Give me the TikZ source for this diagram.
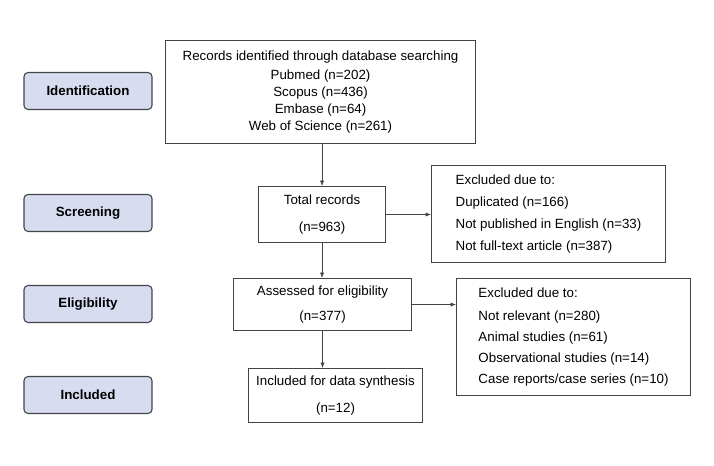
\documentclass[tikz,border=0pt]{standalone}
\usepackage{fontspec}
\setmainfont{Liberation Sans}
\usetikzlibrary{arrows.meta,positioning}
\definecolor{stagefill}{HTML}{D7DCF0}
\definecolor{linegray}{HTML}{444444}
\begin{document}
\begin{tikzpicture}[x=0.75pt, y=-0.75pt, >={Latex[length=4pt,width=3pt]}]
   \tikzset{
    box/.style={draw=linegray, thick, anchor=north west, inner sep=0pt, font=\fontsize{10}{12.75}\selectfont},
    stage/.style={draw=linegray, thick, rounded corners=3pt, fill=stagefill, minimum width=96pt, minimum height=27.75pt, font=\bfseries\fontsize{10}{12}\selectfont},
    link/.style={->, draw=linegray, thin}
   }
   \useasboundingbox (0,0) rectangle (714,466);
   % stages
   \node[stage] (ident) at (88,91) {Identification};
   \node[stage] (scr) at (88,213) {Screening};
   \node[stage] (elig) at (88,304) {Eligibility};
   \node[stage] (incl) at (88,395) {Included};
   % boxes
   \node[box, minimum width=232.5pt, minimum height=77.25pt, align=center] (search) at (165,40)
     {Records identified through database searching\\[1pt]Pubmed (n=202)\\Scopus (n=436)\\Embase (n=64)\\Web of Science (n=261)};
   \node[box, minimum width=95.25pt, minimum height=42pt, align=center] (total) at (258,186)
     {Total records\\[7pt](n=963)};
   \node[box, minimum width=175.5pt, minimum height=72.75pt, align=left, inner xsep=8pt] (excl1) at (431,165)
     {Excluded due to:\\[4pt]Duplicated (n=166)\\[3.5pt]Not published in English (n=33)\\[3.5pt]Not full-text article (n=387)};
   \node[box, minimum width=133.5pt, minimum height=39pt, align=center] (assess) at (233,278)
     {Assessed for eligibility\\[5.5pt](n=377)};
   \node[box, minimum width=175.5pt, minimum height=87.75pt, align=left, inner xsep=8pt] (excl2) at (456,278)
     {Excluded due to:\\[4.5pt]Not relevant (n=280)\\[3pt]Animal studies (n=61)\\[3pt]Observational studies (n=14)\\[3pt]Case reports/case series (n=10)};
   \node[box, minimum width=130.5pt, minimum height=40.5pt, align=center] (synth) at (248,368)
     {Included for data synthesis\\[7pt](n=12)};
   % arrows
   \draw[link] (search.south -| total.north) -- (total.north);
   \draw[link] (total.south) -- (total.south |- assess.north);
   \draw[link] (assess.south) -- (assess.south |- synth.north);
   \draw[link] (total.east) -- (total.east -| excl1.west);
   \draw[link] (assess.east) -- (assess.east -| excl2.west);
\end{tikzpicture}
\end{document}
